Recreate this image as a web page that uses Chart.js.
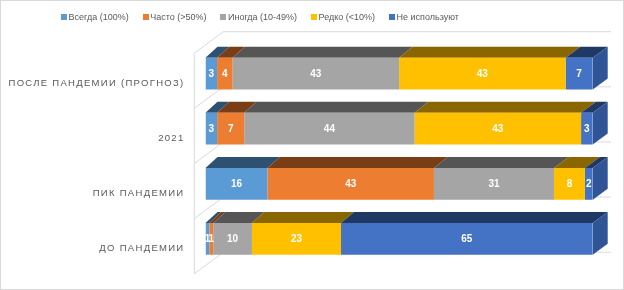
<!DOCTYPE html>
<html><head><meta charset="utf-8">
<script src="https://cdn.jsdelivr.net/npm/chart.js@4.4.1/dist/chart.umd.min.js"></script>
<style>
html,body{margin:0;padding:0;background:#fff;}
#wrap{position:relative;width:624px;height:290px;overflow:hidden;background:#fff;}
#c{position:absolute;left:0;top:0;}
#frame{position:absolute;left:0;top:0;width:624px;height:290px;box-sizing:border-box;border:1px solid #d9d9d9;pointer-events:none;}
#legend{position:absolute;left:61px;top:11px;display:flex;align-items:center;font:9px 'Liberation Sans',Arial,sans-serif;color:#595959;white-space:nowrap;line-height:12px;}
.item{display:flex;align-items:center;margin-right:14px;}
.sw{width:6px;height:6px;margin-right:1.5px;}
</style></head>
<body><div id="wrap"><canvas id="c" width="624" height="290"></canvas><div id="legend"></div><div id="frame"></div></div>
<script>
// ---- data ----
const categories = ['ПОСЛЕ ПАНДЕМИИ (ПРОГНОЗ)', '2021', 'ПИК ПАНДЕМИИ', 'ДО ПАНДЕМИИ'];
const seriesNames = ['Всегда (100%)', 'Часто (>50%)', 'Иногда (10-49%)', 'Редко (<10%)', 'Не используют'];
const always    = [3, 3, 16, 1];
const often     = [4, 7, 43, 1];
const sometimes = [43, 44, 31, 10];
const rarely    = [43, 43, 8, 23];
const never     = [7, 3, 2, 65];
const seriesValues = [always, often, sometimes, rarely, never];

// ---- styles ----
const frontColors = ['#5B9BD5', '#ED7D31', '#A5A5A5', '#FFC000', '#4472C4'];
const topColors   = ['#2E5071', '#7A3E17', '#555555', '#8A6600', '#203864'];
const sideColors  = ['#3F6D96', '#A65722', '#737373', '#B38600', '#2F5597'];

// legend (HTML)
const lg = document.getElementById('legend');
seriesNames.forEach((n, i) => {
  const it = document.createElement('div'); it.className = 'item';
  const sw = document.createElement('div'); sw.className = 'sw'; sw.style.background = frontColors[i];
  const tx = document.createElement('span'); tx.textContent = n;
  it.appendChild(sw); it.appendChild(tx); lg.appendChild(it);
});

const DEPTH_DY = -11;
function depthDx(x, ca) { return 12 + 3 * (x - ca.left) / (ca.right - ca.left); }

const depth3d = {
  id: 'depth3d',
  beforeDraw(chart) {
    if ('letterSpacing' in chart.ctx) chart.ctx.letterSpacing = '1.3px';
  },
  beforeDatasetsDraw(chart) {
    const ctx = chart.ctx, ca = chart.chartArea, ys = chart.scales.y;
    if ('letterSpacing' in ctx) ctx.letterSpacing = '0px';
    ctx.save();
    // walls
    const step = ys.getPixelForValue(1) - ys.getPixelForValue(0);
    const n = categories.length;
    ctx.strokeStyle = '#D9D9D9'; ctx.lineWidth = 1;
    const fx = ca.left - 11.2, fdy = 7.3, bx = ca.left + 17.8, bdy = -14.3, brx = ca.right + 18.3;
    ctx.beginPath();
    ctx.moveTo(fx, ys.getPixelForValue(0) - step / 2 + fdy);
    ctx.lineTo(fx, ys.getPixelForValue(n - 1) + step / 2 + fdy);
    for (let k = 0; k <= n; k++) {
      const yb = ys.getPixelForValue(0) - step / 2 + k * step;
      ctx.moveTo(fx, yb + fdy);
      ctx.lineTo(bx, yb + bdy);
      ctx.lineTo(brx, yb + bdy);
    }
    ctx.stroke();
    // top faces and right faces
    const rightmost = {};
    chart.data.datasets.forEach((ds, di) => {
      const meta = chart.getDatasetMeta(di);
      meta.data.forEach((el, i) => {
        const p = el.getProps(['x', 'base', 'y', 'height'], true);
        const x1 = Math.min(p.x, p.base), x2 = Math.max(p.x, p.base);
        const top = p.y - p.height / 2;
        if (ds.data[i] > 0) {
          ctx.fillStyle = topColors[di];
          ctx.beginPath();
          ctx.moveTo(x1, top);
          ctx.lineTo(x2, top);
          ctx.lineTo(x2 + depthDx(x2, ca), top + DEPTH_DY);
          ctx.lineTo(x1 + depthDx(x1, ca), top + DEPTH_DY);
          ctx.closePath(); ctx.fill();
          if (!rightmost[i] || x2 >= rightmost[i].x2) rightmost[i] = { x2, p, di };
        }
      });
    });
    Object.values(rightmost).forEach(r => {
      const top = r.p.y - r.p.height / 2, bot = r.p.y + r.p.height / 2;
      const dx = depthDx(r.x2, ca);
      ctx.fillStyle = sideColors[r.di];
      ctx.beginPath();
      ctx.moveTo(r.x2, top);
      ctx.lineTo(r.x2 + dx, top + DEPTH_DY);
      ctx.lineTo(r.x2 + dx, bot + DEPTH_DY);
      ctx.lineTo(r.x2, bot);
      ctx.closePath(); ctx.fill();
    });
    ctx.restore();
  },
  afterDatasetsDraw(chart) {
    const ctx = chart.ctx;
    ctx.save();
    if ('letterSpacing' in ctx) ctx.letterSpacing = '0px';
    ctx.font = 'bold 10px "Liberation Sans", Arial, sans-serif';
    ctx.fillStyle = '#FFFFFF';
    ctx.textAlign = 'center'; ctx.textBaseline = 'middle';
    chart.data.datasets.forEach((ds, di) => {
      const meta = chart.getDatasetMeta(di);
      meta.data.forEach((el, i) => {
        const v = ds.data[i];
        if (!v) return;
        const p = el.getProps(['x', 'base', 'y'], true);
        ctx.fillText(String(v), (p.x + p.base) / 2, p.y + 0.5);
      });
    });
    ctx.restore();
  }
};

new Chart(document.getElementById('c'), {
  type: 'bar',
  data: {
    labels: categories,
    datasets: seriesNames.map((name, i) => ({
      label: name,
      data: seriesValues[i],
      backgroundColor: frontColors[i],
      borderWidth: 0,
      categoryPercentage: 0.575,
      barPercentage: 1
    }))
  },
  options: {
    indexAxis: 'y',
    responsive: false,
    animation: false,
    layout: { padding: { top: 46, right: 31.3, bottom: 23.5, left: 0 } },
    plugins: { legend: { display: false }, tooltip: { enabled: false } },
    scales: {
      x: { stacked: true, min: 0, max: 100, display: false },
      y: {
        stacked: true,
        grid: { display: false, drawTicks: false },
        border: { display: false },
        ticks: {
          color: '#595959',
          font: { family: '"Liberation Sans", Arial, sans-serif', size: 9.5 },
          padding: 21,
          labelOffset: 9.5
        },
        afterFit(scale) {
          scale.width = 205.5;
          scale.paddingTop = 0; scale.paddingBottom = 0;
        }
      }
    }
  },
  plugins: [depth3d]
});
</script>
</body></html>
